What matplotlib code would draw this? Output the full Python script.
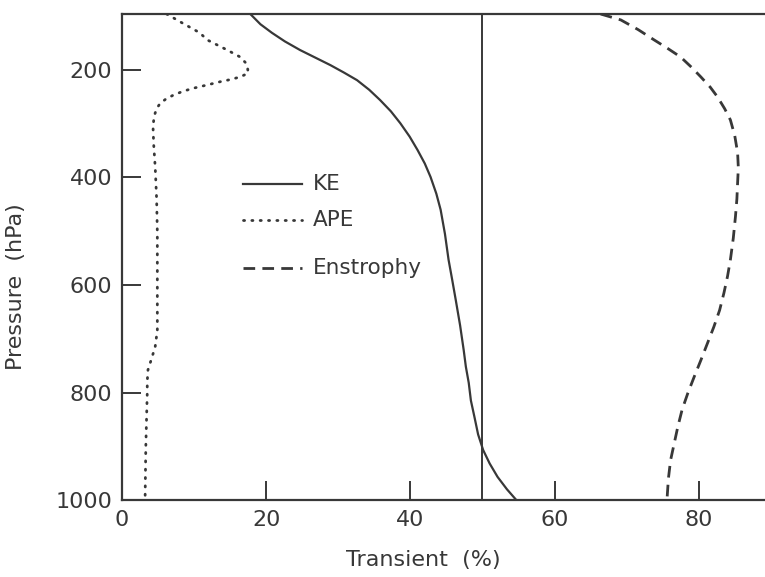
import matplotlib
matplotlib.use("Agg")
import matplotlib.pyplot as plt
from matplotlib.lines import Line2D

# ---- data ----
ke_pressure = [96, 115, 131, 147, 163, 177, 191, 205, 219, 237, 256, 277, 299, 324, 349, 374, 399, 430, 460,
               505, 553, 590, 628, 675, 721, 752, 782, 815, 846, 878, 907, 932, 957, 980, 1000]
ke_value = [17.8, 19.2, 20.8, 22.6, 24.7, 26.8, 28.9, 30.8, 32.6, 34.3, 35.8, 37.3, 38.6, 39.9, 41.0, 42.0,
            42.8, 43.6, 44.2, 44.8, 45.3, 45.8, 46.3, 46.9, 47.4, 47.7, 48.1, 48.4, 48.9, 49.4, 50.1, 51.0,
            52.1, 53.4, 54.7]

ape_pressure = [96, 113, 131, 144, 163, 176, 186, 194, 206, 213, 218, 222, 228, 234, 240, 247, 254, 262,
                270, 280, 293, 306, 340, 380, 440, 503, 560, 615, 684, 715, 737, 758, 780, 801, 850, 901, 950, 1000]
ape_value = [6.2, 8.4, 10.8, 11.8, 14.6, 16.4, 17.1, 17.4, 17.5, 16.4, 15.0, 13.6, 11.8, 9.9, 8.4, 7.1,
             6.1, 5.3, 4.9, 4.6, 4.4, 4.3, 4.4, 4.6, 4.8, 4.9, 4.9, 4.9, 4.9, 4.6, 4.1, 3.6, 3.5, 3.5,
             3.4, 3.3, 3.25, 3.2]

ens_pressure = [96, 107, 125, 144, 160, 176, 195, 213, 232, 250, 272, 293, 322, 354, 382, 410, 440, 473,
                513, 553, 584, 615, 647, 678, 709, 740, 770, 801, 832, 864, 895, 926, 960, 1000]
ens_value = [66.4, 69.2, 71.6, 73.8, 75.7, 77.5, 79.0, 80.3, 81.6, 82.6, 83.6, 84.4, 85.0, 85.4, 85.5,
             85.4, 85.3, 85.1, 84.8, 84.4, 84.0, 83.5, 82.9, 82.1, 81.2, 80.3, 79.4, 78.5, 77.7, 77.1,
             76.6, 76.1, 75.8, 75.6]

ref_line = 50
x_ticks = [0, 20, 40, 60, 80]
y_ticks = [200, 400, 600, 800, 1000]
labels = ["KE", "APE", "Enstrophy"]

INK = "#383838"
plt.rcParams["font.family"] = ["DejaVu Sans"]

fig = plt.figure(figsize=(7.65, 5.77), dpi=100)
ax = fig.add_axes([0.1595, 0.1334, 0.8405, 0.8423])

ke_style = dict(color=INK, lw=1.6, ls="-")
ape_style = dict(color=INK, lw=2.0, ls=(0, (0.4, 2.6)), dash_capstyle="round")
ens_style = dict(color=INK, lw=2.0, ls=(0, (4.2, 2.6)))

ax.plot(ke_value, ke_pressure, **ke_style)
ax.plot(ape_value, ape_pressure, **ape_style)
ax.plot(ens_value, ens_pressure, **ens_style)
ax.axvline(ref_line, color=INK, lw=1.4)

ax.set_xlim(0, 89.2)
ax.set_ylim(1000, 96)
ax.set_xticks(x_ticks)
ax.set_yticks(y_ticks)

for s in ["left", "bottom", "top"]:
    ax.spines[s].set_color(INK)
    ax.spines[s].set_linewidth(1.6)
ax.spines["right"].set_visible(False)

ax.tick_params(axis="both", direction="in", length=14, width=1.4, color=INK,
               labelcolor=INK, labelsize=16)
ax.tick_params(axis="x", pad=7)
ax.tick_params(axis="y", pad=7)

ax.set_xlabel("Transient  (%)", fontsize=16, color=INK)
ax.xaxis.set_label_coords(0.468, -0.123)
ax.xaxis.label.set_va("center")
ax.set_ylabel("Pressure  (hPa)", fontsize=16, color=INK)
ax.yaxis.set_label_coords(-0.165, 0.44)
ax.yaxis.label.set_va("center")

# manual legend (layout in axes fraction)
leg_y = [0.650, 0.576, 0.477]
styles = [ke_style, ape_style, ens_style]
for lab, yy, st in zip(labels, leg_y, styles):
    ax.add_line(Line2D([0.188, 0.280], [yy, yy], transform=ax.transAxes, **st))
    ax.text(0.297, yy, lab, transform=ax.transAxes, fontsize=15.5, color=INK,
            ha="left", va="center")

fig.savefig("out.png", dpi=100, facecolor="white")
